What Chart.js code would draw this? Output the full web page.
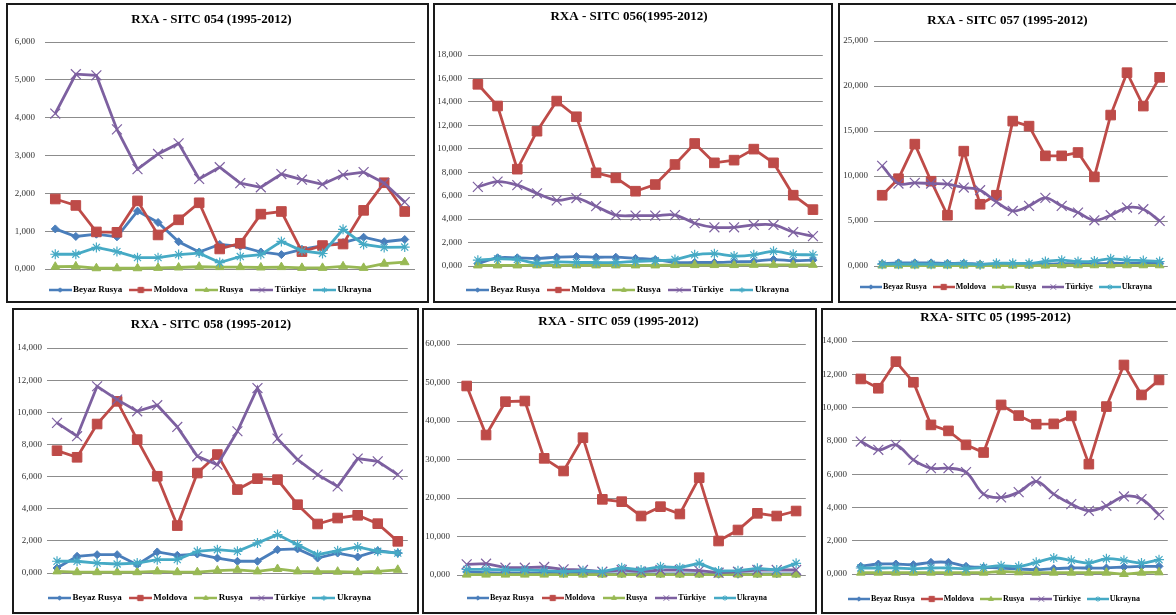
<!DOCTYPE html>
<html>
<head>
<meta charset="utf-8">
<title>RXA - SITC 05</title>
<script src="https://cdn.jsdelivr.net/npm/chart.js@4.4.1/dist/chart.umd.min.js"></script>
<style>
  body { margin: 0; background: #fff; width: 1176px; height: 615px; overflow: hidden; position: relative; }
  canvas { position: absolute; }
  .frame { position: absolute; border: 2px solid #1a1a1a; box-sizing: border-box; pointer-events: none; }
</style>
</head>
<body>
<canvas id="c054" width="419" height="300" style="left:8px;top:5px"></canvas>
<canvas id="c056" width="396" height="300" style="left:435px;top:5px"></canvas>
<canvas id="c057" width="336" height="297" style="left:840px;top:5px"></canvas>
<canvas id="c058" width="402" height="303" style="left:14px;top:310px"></canvas>
<canvas id="c059" width="390" height="303" style="left:424px;top:310px"></canvas>
<canvas id="c05" width="353" height="304" style="left:823px;top:310px"></canvas>

<div class="frame" style="left:6px;top:3px;width:423px;height:300px"></div>
<div class="frame" style="left:433px;top:3px;width:400px;height:300px"></div>
<div class="frame" style="left:838px;top:3px;width:340px;height:300px"></div>
<div class="frame" style="left:12px;top:308px;width:407px;height:306px"></div>
<div class="frame" style="left:422px;top:308px;width:395px;height:306px"></div>
<div class="frame" style="left:821px;top:308px;width:357px;height:306px"></div>

<script>
const years = ['1995', '1996', '1997', '1998', '1999', '2000', '2001', '2002', '2003',
  '2004', '2005', '2006', '2007', '2008', '2009', '2010', '2011', '2012'];
const countries = ['Beyaz Rusya', 'Moldova', 'Rusya', 'Türkiye', 'Ukrayna'];

// SITC 054
const sitc054BeyazRusya = [1.06, 0.86, 0.92, 0.85, 1.53, 1.23, 0.72, 0.45, 0.65, 0.60, 0.45, 0.38, 0.52, 0.62, 0.70, 0.84, 0.72, 0.78];
const sitc054Moldova = [1.85, 1.68, 0.98, 0.97, 1.80, 0.90, 1.30, 1.75, 0.53, 0.68, 1.45, 1.52, 0.46, 0.62, 0.66, 1.55, 2.28, 1.52];
const sitc054Rusya = [0.06, 0.07, 0.02, 0.02, 0.02, 0.03, 0.04, 0.06, 0.05, 0.05, 0.04, 0.05, 0.03, 0.03, 0.07, 0.03, 0.14, 0.18];
const sitc054Turkiye = [4.11, 5.15, 5.12, 3.69, 2.64, 3.04, 3.32, 2.38, 2.69, 2.27, 2.16, 2.51, 2.36, 2.24, 2.49, 2.56, 2.27, 1.77];
const sitc054Ukrayna = [0.39, 0.39, 0.57, 0.46, 0.30, 0.30, 0.38, 0.42, 0.17, 0.33, 0.38, 0.73, 0.48, 0.41, 1.05, 0.65, 0.57, 0.58];

// SITC 056
const sitc056BeyazRusya = [0.20, 0.70, 0.70, 0.65, 0.75, 0.80, 0.75, 0.75, 0.65, 0.55, 0.30, 0.30, 0.30, 0.35, 0.40, 0.55, 0.45, 0.50];
const sitc056Moldova = [15.50, 13.65, 8.26, 11.50, 14.07, 12.73, 7.95, 7.52, 6.38, 6.95, 8.66, 10.45, 8.80, 9.03, 9.97, 8.80, 6.04, 4.81];
const sitc056Rusya = [0.05, 0.05, 0.05, 0.05, 0.05, 0.05, 0.05, 0.05, 0.05, 0.05, 0.08, 0.08, 0.08, 0.08, 0.10, 0.10, 0.10, 0.10];
const sitc056Turkiye = [6.75, 7.20, 6.90, 6.20, 5.60, 5.80, 5.10, 4.35, 4.30, 4.30, 4.35, 3.65, 3.30, 3.30, 3.50, 3.50, 2.90, 2.55];
const sitc056Ukrayna = [0.50, 0.60, 0.55, 0.25, 0.35, 0.30, 0.30, 0.30, 0.40, 0.45, 0.55, 0.95, 1.05, 0.85, 0.95, 1.25, 1.00, 0.95];

// SITC 057
const sitc057BeyazRusya = [0.25, 0.35, 0.35, 0.35, 0.30, 0.30, 0.20, 0.20, 0.15, 0.15, 0.20, 0.25, 0.25, 0.25, 0.30, 0.30, 0.30, 0.30];
const sitc057Moldova = [7.86, 9.70, 13.54, 9.42, 5.64, 12.76, 6.86, 7.86, 16.10, 15.54, 12.24, 12.24, 12.61, 9.90, 16.77, 21.48, 17.77, 20.96];
const sitc057Rusya = [0.05, 0.05, 0.05, 0.05, 0.05, 0.05, 0.05, 0.05, 0.05, 0.05, 0.05, 0.08, 0.08, 0.08, 0.08, 0.08, 0.08, 0.08];
const sitc057Turkiye = [11.13, 9.16, 9.24, 9.16, 9.09, 8.72, 8.42, 7.12, 6.12, 6.68, 7.57, 6.68, 5.94, 5.08, 5.64, 6.49, 6.31, 5.01];
const sitc057Ukrayna = [0.20, 0.20, 0.20, 0.20, 0.20, 0.25, 0.15, 0.30, 0.30, 0.30, 0.50, 0.65, 0.50, 0.55, 0.80, 0.65, 0.60, 0.50];

// SITC 058
const sitc058BeyazRusya = [0.31, 1.04, 1.14, 1.14, 0.52, 1.31, 1.10, 1.18, 0.93, 0.73, 0.73, 1.45, 1.50, 0.93, 1.24, 1.00, 1.39, 1.24];
const sitc058Moldova = [7.61, 7.20, 9.27, 10.68, 8.30, 6.02, 2.95, 6.22, 7.37, 5.19, 5.87, 5.81, 4.25, 3.05, 3.42, 3.59, 3.07, 1.97];
const sitc058Rusya = [0.10, 0.05, 0.05, 0.05, 0.05, 0.10, 0.05, 0.05, 0.15, 0.20, 0.10, 0.25, 0.10, 0.08, 0.08, 0.05, 0.10, 0.20];
const sitc058Turkiye = [9.34, 8.51, 11.62, 10.79, 10.06, 10.44, 9.09, 7.26, 6.74, 8.82, 11.51, 8.36, 7.05, 6.12, 5.39, 7.12, 6.95, 6.12];
const sitc058Ukrayna = [0.73, 0.73, 0.62, 0.56, 0.62, 0.83, 0.83, 1.35, 1.45, 1.35, 1.87, 2.39, 1.76, 1.14, 1.39, 1.62, 1.35, 1.24];

// SITC 059
const sitc059BeyazRusya = [0.80, 0.60, 0.50, 0.50, 0.50, 0.40, 0.40, 0.30, 0.30, 0.30, 0.30, 0.30, 0.30, 0.20, 0.20, 0.30, 0.30, 0.30];
const sitc059Moldova = [49.09, 36.36, 45.02, 45.19, 30.30, 27.01, 35.67, 19.65, 19.05, 15.32, 17.75, 15.84, 25.28, 8.83, 11.69, 16.02, 15.32, 16.62];
const sitc059Rusya = [0.10, 0.10, 0.10, 0.10, 0.10, 0.10, 0.10, 0.10, 0.10, 0.10, 0.10, 0.10, 0.10, 0.10, 0.10, 0.10, 0.10, 0.10];
const sitc059Turkiye = [2.77, 2.94, 1.90, 1.90, 2.08, 1.47, 1.30, 0.87, 1.30, 0.87, 1.30, 1.30, 1.13, 0.60, 0.87, 1.30, 1.30, 1.30];
const sitc059Ukrayna = [1.47, 1.47, 1.30, 1.30, 1.13, 0.87, 1.13, 0.87, 1.90, 1.30, 2.16, 1.90, 3.03, 1.04, 1.13, 1.73, 1.30, 3.03];

// SITC 05
const sitc05BeyazRusya = [0.46, 0.60, 0.60, 0.56, 0.70, 0.70, 0.46, 0.40, 0.36, 0.30, 0.26, 0.32, 0.36, 0.36, 0.36, 0.42, 0.46, 0.46];
const sitc05Moldova = [11.72, 11.16, 12.76, 11.52, 8.96, 8.60, 7.76, 7.30, 10.16, 9.52, 9.00, 9.02, 9.50, 6.60, 10.06, 12.56, 10.76, 11.66];
const sitc05Rusya = [0.08, 0.08, 0.08, 0.08, 0.08, 0.08, 0.08, 0.08, 0.15, 0.10, 0.08, 0.08, 0.08, 0.08, 0.08, 0.00, 0.08, 0.10];
const sitc05Turkiye = [7.96, 7.46, 7.76, 6.86, 6.36, 6.36, 6.12, 4.80, 4.60, 4.92, 5.56, 4.80, 4.20, 3.80, 4.10, 4.66, 4.50, 3.56];
const sitc05Ukrayna = [0.36, 0.36, 0.36, 0.32, 0.36, 0.36, 0.32, 0.40, 0.50, 0.46, 0.70, 0.96, 0.82, 0.66, 0.92, 0.82, 0.66, 0.86];

const serifFont = '"Liberation Serif", "Times New Roman", serif';
const seriesStyles = [
  { color: '#4A7EBB', marker: 'rectRot', radius: 4, pointWidth: 1 },
  { color: '#BE4B48', marker: 'rect', radius: 6.8, pointWidth: 1 },
  { color: '#98B954', marker: 'triangle', radius: 5, pointWidth: 1 },
  { color: '#7D60A0', marker: 'crossRot', radius: 7, pointWidth: 1.2 },
  { color: '#46AAC5', marker: 'star', radius: 5, pointWidth: 1.2 }
];

// box: plot edges, title and legend centre lines (px, relative to the canvas)
const panels = [
  { id: 'c054', title: 'RXA - SITC 054 (1995-2012)', yMax: 6, step: 1, smooth: false,
    series: [sitc054BeyazRusya, sitc054Moldova, sitc054Rusya, sitc054Turkiye, sitc054Ukrayna],
    box: { left: 37, right: 12, tickGap: 10, titleY: 15, top: 37, zero: 264, legendY: 285 },
    legend: { size: 9, swatch: 20, pad: 10 } },
  { id: 'c056', title: 'RXA - SITC 056(1995-2012)', yMax: 18, step: 2, smooth: true,
    series: [sitc056BeyazRusya, sitc056Moldova, sitc056Rusya, sitc056Turkiye, sitc056Ukrayna],
    box: { left: 33, right: 8, tickGap: 6, titleY: 12, top: 50, zero: 261, legendY: 285 },
    legend: { size: 9, swatch: 20, pad: 10 } },
  { id: 'c057', title: 'RXA - SITC 057 (1995-2012)', yMax: 25, step: 5, smooth: true,
    series: [sitc057BeyazRusya, sitc057Moldova, sitc057Rusya, sitc057Turkiye, sitc057Ukrayna],
    box: { left: 34, right: 1, tickGap: 6, titleY: 16, top: 36, zero: 261, legendY: 282 },
    legend: { size: 8, swatch: 19, pad: 9 } },
  { id: 'c058', title: 'RXA - SITC 058 (1995-2012)', yMax: 14, step: 2, smooth: false,
    series: [sitc058BeyazRusya, sitc058Moldova, sitc058Rusya, sitc058Turkiye, sitc058Ukrayna],
    box: { left: 33, right: 8, tickGap: 5, titleY: 15, top: 38, zero: 263, legendY: 288 },
    legend: { size: 9, swatch: 20, pad: 10 } },
  { id: 'c059', title: 'RXA - SITC 059 (1995-2012)', yMax: 60, step: 10, smooth: false,
    series: [sitc059BeyazRusya, sitc059Moldova, sitc059Rusya, sitc059Turkiye, sitc059Ukrayna],
    box: { left: 33, right: 1, tickGap: 7, titleY: 12, top: 34, zero: 265, legendY: 288 },
    legend: { size: 8, swatch: 19, pad: 11 } },
  { id: 'c05', title: 'RXA- SITC 05 (1995-2012)', yMax: 14, step: 2, smooth: true,
    series: [sitc05BeyazRusya, sitc05Moldova, sitc05Rusya, sitc05Turkiye, sitc05Ukrayna],
    box: { left: 29, right: 8, tickGap: 5, titleY: 8, top: 31, zero: 264, legendY: 289 },
    legend: { size: 8, swatch: 19, pad: 9 } }
];

document.addEventListener('DOMContentLoaded', function () {
  panels.forEach(drawPanel);
});

function legendSwatch(style, width) {
  const c = document.createElement('canvas');
  c.width = width;
  c.height = 12;
  const ctx = c.getContext('2d');
  ctx.strokeStyle = style.color;
  ctx.lineWidth = 2.5;
  ctx.beginPath();
  ctx.moveTo(0, 6);
  ctx.lineTo(width, 6);
  ctx.stroke();
  ctx.fillStyle = style.color;
  ctx.lineWidth = 1;
  if (Chart.helpers && Chart.helpers.drawPoint) {
    Chart.helpers.drawPoint(ctx, { pointStyle: style.marker, rotation: 0, radius: style.radius * 0.55, borderWidth: 1 }, width / 2, 6);
  }
  return c;
}

function drawPanel(p) {
  const canvas = document.getElementById(p.id);
  const H = canvas.height;
  const b = p.box;
  const lg = p.legend;
  const titleLine = 13 * 1.2;
  const legendTop = b.legendY - lg.pad - lg.size / 2;
  const legendHeight = lg.size + lg.pad + 10;

  const datasets = p.series.map(function (values, i) {
    const s = seriesStyles[i];
    return {
      label: countries[i],
      data: values,
      borderColor: s.color,
      backgroundColor: s.color,
      borderWidth: 2.8,
      pointStyle: s.marker,
      pointRadius: s.radius,
      pointHoverRadius: s.radius,
      pointBorderWidth: s.pointWidth,
      pointBackgroundColor: s.color,
      pointBorderColor: s.color,
      tension: (p.smooth && i !== 1) ? 0.35 : 0,
      clip: false,
      order: 5 - i
    };
  });

  new Chart(canvas.getContext('2d'), {
    type: 'line',
    data: { labels: years, datasets: datasets },
    options: {
      responsive: false,
      animation: false,
      events: [],
      layout: { padding: { left: 0, top: 0, right: b.right, bottom: Math.max(0, H - legendTop - legendHeight) } },
      scales: {
        x: {
          offset: true,
          grid: { display: false },
          border: { display: false },
          ticks: { display: false },
          afterFit: function (scale) { scale.height = legendTop - b.zero; }
        },
        y: {
          min: 0,
          max: p.yMax,
          ticks: {
            stepSize: p.step,
            padding: b.tickGap,
            color: '#333',
            font: { family: serifFont, size: 9 },
            callback: function (v) { return v.toFixed(3).replace('.', ','); }
          },
          grid: { color: '#8c8c8c', lineWidth: 1, drawTicks: false },
          border: { display: false },
          afterFit: function (scale) { scale.width = b.left; }
        }
      },
      plugins: {
        title: {
          display: true,
          text: p.title,
          color: '#000',
          font: { family: serifFont, size: 13, weight: 'bold', lineHeight: 1.2 },
          padding: { top: b.titleY - titleLine / 2, bottom: b.top - b.titleY - titleLine / 2 }
        },
        legend: {
          position: 'bottom',
          labels: {
            usePointStyle: true,
            pointStyleWidth: lg.swatch - 3,
            padding: lg.pad,
            color: '#000',
            font: { family: serifFont, size: lg.size, weight: 'bold' },
            generateLabels: function (chart) {
              return chart.data.datasets.map(function (ds, i) {
                return {
                  text: ds.label,
                  pointStyle: legendSwatch(seriesStyles[i], lg.swatch + 3),
                  fillStyle: seriesStyles[i].color,
                  strokeStyle: seriesStyles[i].color,
                  lineWidth: 0,
                  hidden: false,
                  datasetIndex: i
                };
              });
            }
          }
        },
        tooltip: { enabled: false }
      }
    }
  });
}
</script>
</body>
</html>
